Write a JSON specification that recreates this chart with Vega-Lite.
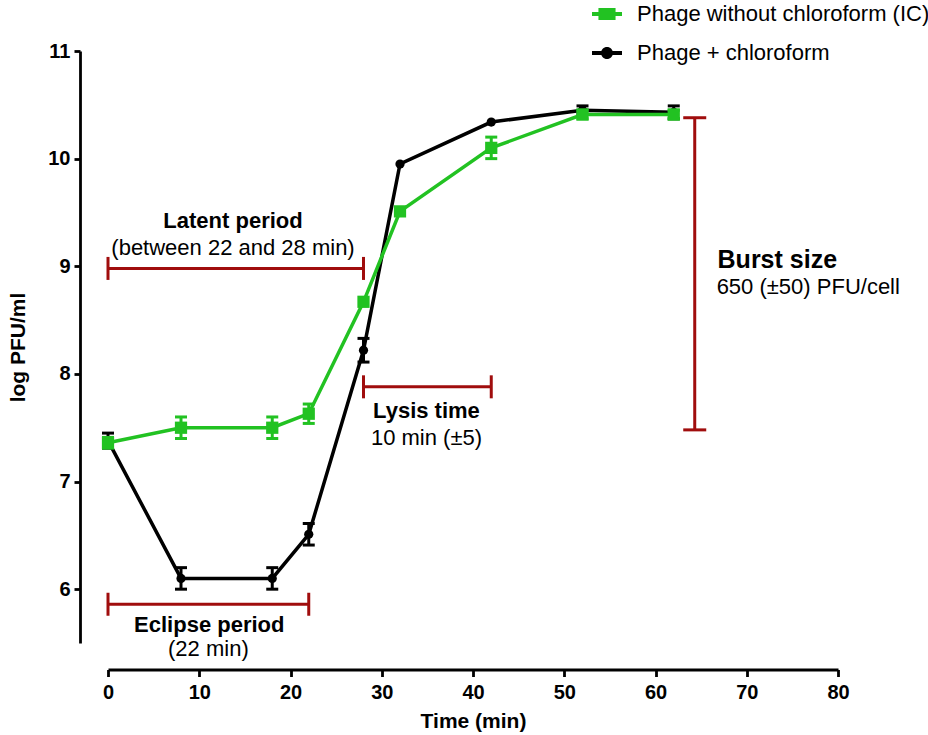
{
  "$schema": "https://vega.github.io/schema/vega-lite/v6.json",
  "width": 730,
  "height": 592,
  "autosize": {"type": "none"},
  "padding": {"left": 108, "top": 51, "right": 90, "bottom": 92},
  "background": "white",
  "datasets": {
    "growth": [
      {"series": "Phage + chloroform", "time": 0, "value": 7.38},
      {"series": "Phage + chloroform", "time": 8, "value": 6.1},
      {"series": "Phage + chloroform", "time": 18, "value": 6.1},
      {"series": "Phage + chloroform", "time": 22, "value": 6.51},
      {"series": "Phage + chloroform", "time": 28, "value": 8.22},
      {"series": "Phage + chloroform", "time": 32, "value": 9.95},
      {"series": "Phage + chloroform", "time": 42, "value": 10.34},
      {"series": "Phage + chloroform", "time": 52, "value": 10.45},
      {"series": "Phage + chloroform", "time": 62, "value": 10.43},
      {"series": "Phage without chloroform (IC)", "time": 0, "value": 7.36},
      {"series": "Phage without chloroform (IC)", "time": 8, "value": 7.5},
      {"series": "Phage without chloroform (IC)", "time": 18, "value": 7.5},
      {"series": "Phage without chloroform (IC)", "time": 22, "value": 7.63},
      {"series": "Phage without chloroform (IC)", "time": 28, "value": 8.67},
      {"series": "Phage without chloroform (IC)", "time": 32, "value": 9.51},
      {"series": "Phage without chloroform (IC)", "time": 42, "value": 10.1},
      {"series": "Phage without chloroform (IC)", "time": 52, "value": 10.41},
      {"series": "Phage without chloroform (IC)", "time": 62, "value": 10.41}
    ],
    "errs": [
      {"series": "Phage + chloroform", "time": 0, "low": 7.31, "high": 7.45},
      {"series": "Phage + chloroform", "time": 8, "low": 6.0, "high": 6.2},
      {"series": "Phage + chloroform", "time": 18, "low": 6.0, "high": 6.2},
      {"series": "Phage + chloroform", "time": 22, "low": 6.41, "high": 6.61},
      {"series": "Phage + chloroform", "time": 28, "low": 8.11, "high": 8.33},
      {"series": "Phage + chloroform", "time": 52, "low": 10.41, "high": 10.49},
      {"series": "Phage + chloroform", "time": 62, "low": 10.37, "high": 10.49},
      {"series": "Phage without chloroform (IC)", "time": 0, "low": 7.31, "high": 7.41},
      {"series": "Phage without chloroform (IC)", "time": 8, "low": 7.4, "high": 7.6},
      {"series": "Phage without chloroform (IC)", "time": 18, "low": 7.4, "high": 7.6},
      {"series": "Phage without chloroform (IC)", "time": 22, "low": 7.54, "high": 7.72},
      {"series": "Phage without chloroform (IC)", "time": 42, "low": 10.0, "high": 10.2},
      {"series": "Phage without chloroform (IC)", "time": 52, "low": 10.37, "high": 10.45},
      {"series": "Phage without chloroform (IC)", "time": 62, "low": 10.37, "high": 10.45}
    ],
    "hbr": [
      {"name": "Latent period", "x1": 0, "x2": 28, "y": 8.98},
      {"name": "Eclipse period", "x1": 0, "x2": 22, "y": 5.86},
      {"name": "Lysis time", "x1": 28, "x2": 42, "y": 7.88}
    ],
    "vbr": [
      {"name": "Burst size", "x": 64.3, "y1": 7.48, "y2": 10.38}
    ],
    "notes": [
      {"kind": "title", "text": "Latent period", "x": 13.7, "y": 9.42},
      {"kind": "detail", "text": "(between 22 and 28 min)", "x": 13.7, "y": 9.17},
      {"kind": "title", "text": "Eclipse period", "x": 11.1, "y": 5.67},
      {"kind": "detail", "text": "(22 min)", "x": 11.0, "y": 5.44},
      {"kind": "title", "text": "Lysis time", "x": 34.9, "y": 7.66},
      {"kind": "detail", "text": "10 min (±5)", "x": 34.9, "y": 7.4},
      {"kind": "bursttitle", "text": "Burst size", "x": 66.8, "y": 9.06},
      {"kind": "burstdetail", "text": "650 (±50) PFU/cell", "x": 66.7, "y": 8.81}
    ]
  },
  "layer": [
    {
      "data": {"name": "hbr"},
      "mark": {"type": "rule", "color": "#a00d0d", "strokeWidth": 3},
      "encoding": {
        "x": {"field": "x1", "type": "quantitative", "scale": {"domain": [0, 80], "nice": false}, "axis": {"title": "Time (min)", "values": [0, 10, 20, 30, 40, 50, 60, 70, 80], "format": "d", "labelFlush": false, "offset": 26.5, "tickSize": 7, "labelFontSize": 20, "labelPadding": 6, "titleFontSize": 21, "titlePadding": 8}},
        "x2": {"field": "x2"},
        "y": {"field": "y", "type": "quantitative", "scale": {"domain": [5.5, 11], "nice": false, "zero": false}, "axis": {"title": "log PFU/ml", "values": [6, 7, 8, 9, 10, 11], "format": "d", "labelFlush": false, "offset": 28, "tickSize": 6, "labelFontSize": 20, "labelPadding": 4, "titleFontSize": 21, "titlePadding": 19}}
      }
    },
    {
      "data": {"name": "hbr"},
      "mark": {"type": "tick", "orient": "vertical", "color": "#a00d0d", "opacity": 1, "thickness": 3, "size": 23},
      "encoding": {"x": {"field": "x1", "type": "quantitative"}, "y": {"field": "y", "type": "quantitative"}}
    },
    {
      "data": {"name": "hbr"},
      "mark": {"type": "tick", "orient": "vertical", "color": "#a00d0d", "opacity": 1, "thickness": 3, "size": 23},
      "encoding": {"x": {"field": "x2", "type": "quantitative"}, "y": {"field": "y", "type": "quantitative"}}
    },
    {
      "data": {"name": "vbr"},
      "mark": {"type": "rule", "color": "#a00d0d", "strokeWidth": 3},
      "encoding": {"x": {"field": "x", "type": "quantitative"}, "y": {"field": "y1", "type": "quantitative"}, "y2": {"field": "y2"}}
    },
    {
      "data": {"name": "vbr"},
      "mark": {"type": "tick", "orient": "horizontal", "color": "#a00d0d", "opacity": 1, "thickness": 3, "size": 23},
      "encoding": {"x": {"field": "x", "type": "quantitative"}, "y": {"field": "y1", "type": "quantitative"}}
    },
    {
      "data": {"name": "vbr"},
      "mark": {"type": "tick", "orient": "horizontal", "color": "#a00d0d", "opacity": 1, "thickness": 3, "size": 23},
      "encoding": {"x": {"field": "x", "type": "quantitative"}, "y": {"field": "y2", "type": "quantitative"}}
    },
    {
      "data": {"name": "growth"},
      "transform": [{"filter": {"field": "series", "equal": "Phage + chloroform"}}],
      "mark": {"type": "line", "strokeWidth": 3.5},
      "encoding": {
        "x": {"field": "time", "type": "quantitative"},
        "y": {"field": "value", "type": "quantitative"},
        "color": {
          "field": "series", "type": "nominal",
          "scale": {"domain": ["Phage without chloroform (IC)", "Phage + chloroform"], "range": ["#22c222", "#000000"]},
          "legend": {
            "title": null, "orient": "none", "legendX": 484, "legendY": -52,
            "padding": 0, "rowPadding": 13, "labelOffset": 15, "symbolSize": 900, "labelLimit": 0,
            "labelFont": "Liberation Sans", "labelFontSize": 22, "labelFontWeight": "normal", "labelColor": "#000000",
            "symbolStrokeWidth": 0,
            "encode": {
              "symbols": {
                "update": {
                  "shape": {"signal": "datum.value === 'Phage + chloroform' ? 'M-1,-0.13H1V0.13H-1Z M-0.4,0A0.4,0.4,0,1,1,0.4,0A0.4,0.4,0,1,1,-0.4,0Z' : 'M-1,-0.13H1V0.13H-1Z M-0.57,-0.4H0.57V0.4H-0.57Z'"},
                  "fill": {"scale": "color", "field": "value"},
                  "fillOpacity": {"value": 1},
                  "strokeWidth": {"value": 0},
                  "size": {"value": 900}
                }
              }
            }
          }
        }
      }
    },
    {
      "data": {"name": "errs"},
      "transform": [{"filter": {"field": "series", "equal": "Phage + chloroform"}}],
      "mark": {"type": "rule", "strokeWidth": 3, "opacity": 1},
      "encoding": {"x": {"field": "time", "type": "quantitative"}, "y": {"field": "low", "type": "quantitative"}, "y2": {"field": "high"}, "color": {"field": "series", "type": "nominal"}}
    },
    {
      "data": {"name": "errs"},
      "transform": [{"filter": {"field": "series", "equal": "Phage + chloroform"}}],
      "mark": {"type": "tick", "orient": "horizontal", "thickness": 3, "size": 12, "opacity": 1},
      "encoding": {"x": {"field": "time", "type": "quantitative"}, "y": {"field": "low", "type": "quantitative"}, "color": {"field": "series", "type": "nominal"}}
    },
    {
      "data": {"name": "errs"},
      "transform": [{"filter": {"field": "series", "equal": "Phage + chloroform"}}],
      "mark": {"type": "tick", "orient": "horizontal", "thickness": 3, "size": 12, "opacity": 1},
      "encoding": {"x": {"field": "time", "type": "quantitative"}, "y": {"field": "high", "type": "quantitative"}, "color": {"field": "series", "type": "nominal"}}
    },
    {
      "data": {"name": "growth"},
      "transform": [{"filter": {"field": "series", "equal": "Phage + chloroform"}}],
      "mark": {"type": "point", "shape": "circle", "filled": true, "opacity": 1, "size": 85},
      "encoding": {"x": {"field": "time", "type": "quantitative"}, "y": {"field": "value", "type": "quantitative"}, "color": {"field": "series", "type": "nominal"}}
    },
    {
      "data": {"name": "growth"},
      "transform": [{"filter": {"field": "series", "equal": "Phage without chloroform (IC)"}}],
      "mark": {"type": "line", "strokeWidth": 3.5},
      "encoding": {"x": {"field": "time", "type": "quantitative"}, "y": {"field": "value", "type": "quantitative"}, "color": {"field": "series", "type": "nominal"}}
    },
    {
      "data": {"name": "errs"},
      "transform": [{"filter": {"field": "series", "equal": "Phage without chloroform (IC)"}}],
      "mark": {"type": "rule", "strokeWidth": 3, "opacity": 1},
      "encoding": {"x": {"field": "time", "type": "quantitative"}, "y": {"field": "low", "type": "quantitative"}, "y2": {"field": "high"}, "color": {"field": "series", "type": "nominal"}}
    },
    {
      "data": {"name": "errs"},
      "transform": [{"filter": {"field": "series", "equal": "Phage without chloroform (IC)"}}],
      "mark": {"type": "tick", "orient": "horizontal", "thickness": 3, "size": 12, "opacity": 1},
      "encoding": {"x": {"field": "time", "type": "quantitative"}, "y": {"field": "low", "type": "quantitative"}, "color": {"field": "series", "type": "nominal"}}
    },
    {
      "data": {"name": "errs"},
      "transform": [{"filter": {"field": "series", "equal": "Phage without chloroform (IC)"}}],
      "mark": {"type": "tick", "orient": "horizontal", "thickness": 3, "size": 12, "opacity": 1},
      "encoding": {"x": {"field": "time", "type": "quantitative"}, "y": {"field": "high", "type": "quantitative"}, "color": {"field": "series", "type": "nominal"}}
    },
    {
      "data": {"name": "growth"},
      "transform": [{"filter": {"field": "series", "equal": "Phage without chloroform (IC)"}}],
      "mark": {"type": "point", "shape": "square", "filled": true, "opacity": 1, "size": 150},
      "encoding": {"x": {"field": "time", "type": "quantitative"}, "y": {"field": "value", "type": "quantitative"}, "color": {"field": "series", "type": "nominal"}}
    },
    {
      "data": {"name": "notes"},
      "transform": [{"filter": {"field": "kind", "equal": "title"}}],
      "mark": {"type": "text", "font": "Liberation Sans", "fontWeight": "bold", "fontSize": 22, "align": "center", "baseline": "middle", "color": "#000000"},
      "encoding": {"x": {"field": "x", "type": "quantitative"}, "y": {"field": "y", "type": "quantitative"}, "text": {"field": "text"}}
    },
    {
      "data": {"name": "notes"},
      "transform": [{"filter": {"field": "kind", "equal": "detail"}}],
      "mark": {"type": "text", "font": "Liberation Sans", "fontSize": 22, "align": "center", "baseline": "middle", "color": "#000000"},
      "encoding": {"x": {"field": "x", "type": "quantitative"}, "y": {"field": "y", "type": "quantitative"}, "text": {"field": "text"}}
    },
    {
      "data": {"name": "notes"},
      "transform": [{"filter": {"field": "kind", "equal": "bursttitle"}}],
      "mark": {"type": "text", "font": "Liberation Sans", "fontWeight": "bold", "fontSize": 25, "align": "left", "baseline": "middle", "color": "#000000"},
      "encoding": {"x": {"field": "x", "type": "quantitative"}, "y": {"field": "y", "type": "quantitative"}, "text": {"field": "text"}}
    },
    {
      "data": {"name": "notes"},
      "transform": [{"filter": {"field": "kind", "equal": "burstdetail"}}],
      "mark": {"type": "text", "font": "Liberation Sans", "fontSize": 22, "align": "left", "baseline": "middle", "color": "#000000"},
      "encoding": {"x": {"field": "x", "type": "quantitative"}, "y": {"field": "y", "type": "quantitative"}, "text": {"field": "text"}}
    }
  ],
  "config": {
    "view": {"stroke": null},
    "axis": {
      "grid": false, "domainColor": "#000000", "domainWidth": 2.8, "tickColor": "#000000", "tickWidth": 2.8,
      "labelColor": "#000000", "titleColor": "#000000", "labelFont": "Liberation Sans", "titleFont": "Liberation Sans",
      "labelFontWeight": "bold", "titleFontWeight": "bold"
    }
  }
}
